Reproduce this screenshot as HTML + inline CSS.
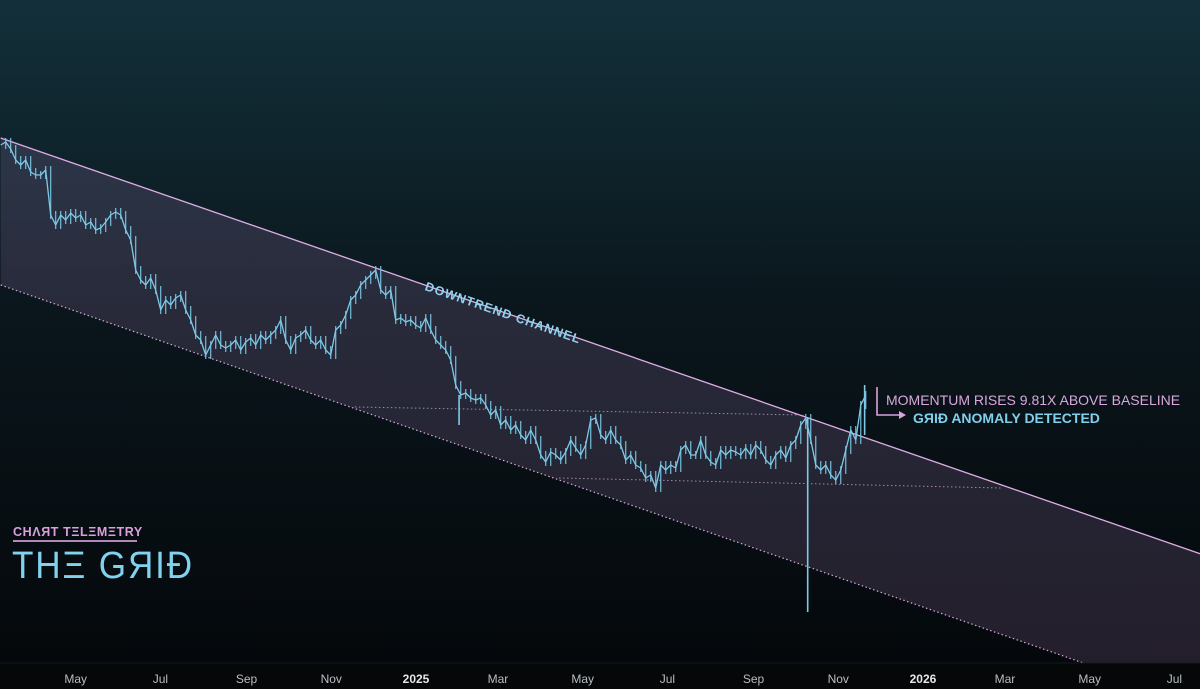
<!DOCTYPE html>
<html><head><meta charset="utf-8"><style>
html,body{margin:0;padding:0;width:1200px;height:689px;overflow:hidden;background:#05080b}
svg{display:block}
</style></head><body>
<svg id="chart" width="1200" height="689" viewBox="0 0 1200 689" xmlns="http://www.w3.org/2000/svg">
<defs>
<linearGradient id="bg" x1="0" y1="0" x2="0" y2="1">
<stop offset="0" stop-color="#13303a"/>
<stop offset="0.45" stop-color="#0a161c"/>
<stop offset="1" stop-color="#04070a"/>
</linearGradient>
</defs>
<rect x="0" y="0" width="1200" height="689" fill="url(#bg)"/>
<g id="plot"></g>
<rect x="0" y="663" width="1200" height="26" fill="#050709"/>
<line x1="0" y1="663" x2="1200" y2="663" stroke="#14191d" stroke-width="1"/>
<g id="xaxis"></g>
<text x="503" y="317" transform="rotate(19.1 503 313)" text-anchor="middle" font-family="Liberation Sans, sans-serif" font-weight="bold" font-size="12.5" letter-spacing="1" fill="#8fd3ee">DOWNTREND CHANNEL</text>
<g>
<polyline points="877,387 877,415 900,415" fill="none" stroke="#d9a3dc" stroke-width="1.6"/>
<polygon points="899,411 906,415 899,419" fill="#d9a3dc"/>
<text x="886" y="405" font-family="Liberation Sans, sans-serif" font-size="14" fill="#d8a8da">MOMENTUM RISES 9.81X ABOVE BASELINE</text>
<text x="913" y="423" font-family="Liberation Sans, sans-serif" font-weight="bold" font-size="14" fill="#80d0ec">GЯIĐ ANOMALY DETECTED</text>
</g>
<g>
<text x="13" y="536" font-family="Liberation Sans, sans-serif" font-weight="bold" font-size="12.5" letter-spacing="0.6" fill="#d9a0dc">CHΛЯT TΞLΞMΞTRY</text>
<rect x="13" y="540" width="124" height="2" fill="#b488b8"/>
<text x="12" y="578" font-family="Liberation Sans, sans-serif" font-size="38" letter-spacing="2" fill="#80d2ee" textLength="182" lengthAdjust="spacingAndGlyphs">THΞ GЯIĐ</text>
</g>
</svg>
<script>
// ---- data ----
const startDate = "2024-03-08";
const stepDays = 3.6;
const closes = [544,547,540,529,524,529,517,514,514,519,474,464,474,469,476,471,474,464,467,459,461,467,474,477,474,459,449,419,409,404,411,399,379,389,384,391,394,379,369,354,349,334,344,354,344,341,344,349,339,347,351,344,354,349,354,359,369,349,339,351,354,359,349,344,349,339,334,359,364,374,389,394,404,409,414,419,399,394,399,369,371,367,369,364,361,371,359,349,344,339,329,304,294,296,291,289,291,284,274,279,264,269,259,264,254,249,259,249,234,227,237,234,229,237,249,241,234,244,269,271,254,249,259,249,244,229,234,224,221,211,214,201,224,219,224,221,239,244,234,234,249,234,227,224,239,234,239,237,234,241,234,244,239,229,224,234,239,231,244,249,264,271];
const tailCloses = [249,224,219,224,214,209,219,239,259,249,284,294];
const spikeDates = ["2025-02-01","2025-10-10","2025-11-20"];
const spikeLows = [264,77,254];
const spikeHighs = [294,271,304];
const upperChannel = [["2024-03-08",551],["2026-07-20",135]];
const lowerChannel = [["2024-03-08",404],["2026-07-20",-15]];
const level1 = [["2024-11-18",282],["2025-10-07",274]];
const level2 = [["2025-04-14",211],["2026-02-26",201]];
const tickLabels = ["May","Jul","Sep","Nov","2025","Mar","May","Jul","Sep","Nov","2026","Mar","May","Jul"];
const tickDates = ["2024-05-01","2024-07-01","2024-09-01","2024-11-01","2025-01-01","2025-03-01","2025-05-01","2025-07-01","2025-09-01","2025-11-01","2026-01-01","2026-03-01","2026-05-01","2026-07-01"];
const tickBold = [0,0,0,0,1,0,0,0,0,0,1,0,0,0];

// ---- scales ----
const D0 = Date.parse("2025-01-01");
const PXD = 1.389;
function xs(d){ const t = typeof d === "number" ? d : Date.parse(d); return 416 + (t - D0)/86400000*PXD; }
function ys(p){ return 689 - p; }
const NS = "http://www.w3.org/2000/svg";
const plot = document.getElementById("plot");
function mk(tag, attrs, parent){ const e = document.createElementNS(NS, tag); for (const k in attrs) e.setAttribute(k, attrs[k]); (parent||plot).appendChild(e); return e; }

// channel fill
const u0=[xs(upperChannel[0][0]),ys(upperChannel[0][1])], u1=[xs(upperChannel[1][0]),ys(upperChannel[1][1])];
const l0=[xs(lowerChannel[0][0]),ys(lowerChannel[0][1])], l1=[xs(lowerChannel[1][0]),ys(lowerChannel[1][1])];
const fill = mk("polygon",{points:`${u0} ${u1} ${l1} ${l0}`, fill:"rgba(200,150,220,0.16)"});


const up = mk("line",{x1:u0[0],y1:u0[1],x2:u1[0],y2:u1[1],stroke:"#e0aee6","stroke-width":1.3});


const lo = mk("line",{x1:l0[0],y1:l0[1],x2:l1[0],y2:l1[1],stroke:"#d8a8dc","stroke-width":1.2,"stroke-dasharray":"1.5 2.5"});


[level1, level2].forEach((lv, i) => {
  const l = mk("line",{x1:xs(lv[0][0]),y1:ys(lv[0][1]),x2:xs(lv[1][0]),y2:ys(lv[1][1]),stroke:"#c99ad0","stroke-width":1,"stroke-dasharray":"1.5 2.5",opacity:0.8});
  
  
});

// price series
const all = closes.concat(tailCloses);
const s0 = Date.parse(startDate);
let pts = [];
all.forEach((c, i) => { pts.push(xs(s0 + i*stepDays*86400000).toFixed(1) + "," + ys(c).toFixed(1)); });
const bars = mk("g",{});


for (let i = 1; i < all.length; i++) {
  const x = xs(s0 + i*stepDays*86400000);
  const hi = Math.max(all[i], all[i-1]) + 4, lw = Math.min(all[i], all[i-1]) - 4;
  const b = mk("line",{x1:x,y1:ys(hi),x2:x,y2:ys(lw),stroke:"#74bfdc","stroke-width":1.2}, bars);
  
  
}
const pl = mk("polyline",{points:pts.join(" "),fill:"none",stroke:"#80c9e6","stroke-width":1.3,"stroke-linejoin":"round"});


spikeDates.forEach((d, i) => {
  const s = mk("line",{x1:xs(d),y1:ys(spikeHighs[i]),x2:xs(d),y2:ys(spikeLows[i]),stroke:"#80c9e6","stroke-width":1.6});
  
  
});

// x axis
const xa = document.getElementById("xaxis");
tickLabels.forEach((t, i) => {
  const e = mk("text",{x:xs(tickDates[i]),y:683,"text-anchor":"middle","font-family":"Liberation Sans, sans-serif","font-size":12,"font-weight":tickBold[i]?"bold":"normal",fill:tickBold[i]?"#e4e8ea":"#b8bec2"}, xa);
  e.textContent = t;
  
  
});
</script>
</body></html>
